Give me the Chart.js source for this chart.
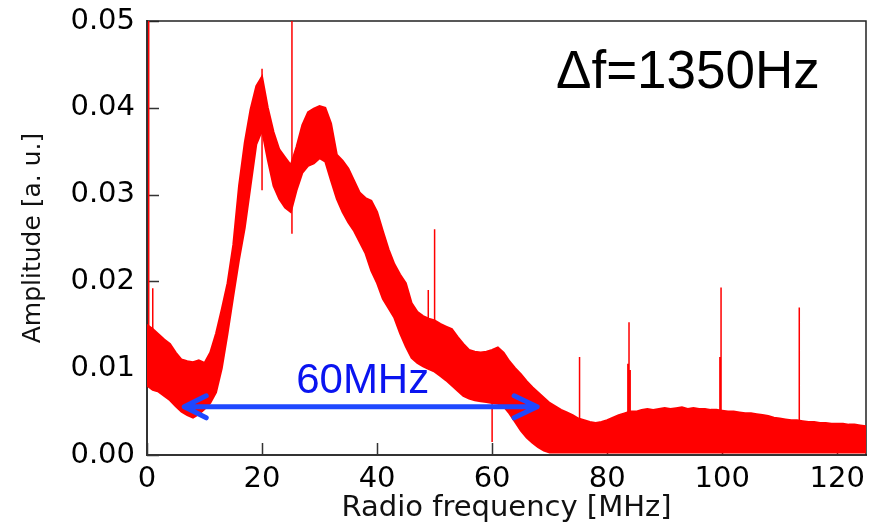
<!DOCTYPE html>
<html>
<head>
<meta charset="utf-8">
<script src="https://cdn.jsdelivr.net/npm/chart.js@4.4.1/dist/chart.umd.min.js"></script>
<style>
  html, body { margin: 0; padding: 0; background: #ffffff; }
  #wrap { width: 870px; height: 523px; position: relative; }
</style>
</head>
<body>
<div id="wrap"><canvas id="c" width="870" height="523"></canvas></div>
<script>
// ---- data (x in MHz, y in a.u.) ----
const freq = [0,1,2,3,4,5,6,7,8,9,10,11,12,13,14,15,16,17,18,19,20,21,22,23,24,25,26,27,28,29,30,31,32,33,34,35,36,37,38,39,40,41,42,43,44,45,46,47,48,49,50,51,52,53,54,55,56,57,58,59,60,61,62,63,64,65,66,67,68,69,70,71,72,73,74,75,76,77,78,79,80,81,82,83,84,85,86,87,88,89,90,91,92,93,94,95,96,97,98,99,100,101,102,103,104,105,106,107,108,109,110,111,112,113,114,115,116,117,118,119,120,121,122,123,124,125];

// upper edge of the noise band
const upperEnv = [0.0150,0.0145,0.0139,0.0133,0.0128,0.0118,0.0110,0.0108,0.0107,0.0109,
  0.0106,0.0118,0.0140,0.0168,0.0198,0.0242,0.0310,0.0360,0.0398,0.0425,
  0.0436,0.0400,0.0372,0.0352,0.0343,0.0334,0.0355,0.0380,0.0395,0.0399,
  0.0402,0.0400,0.0382,0.0346,0.0339,0.0330,0.0316,0.0302,0.0296,0.0293,
  0.0280,0.0258,0.0237,0.0220,0.0208,0.0198,0.0175,0.0165,0.0160,0.0157,
  0.0155,0.0151,0.0148,0.0145,0.0136,0.0128,0.0121,0.0119,0.0118,0.0119,
  0.0121,0.0124,0.0118,0.0108,0.0100,0.0093,0.0085,0.0078,0.0072,0.0066,
  0.0060,0.0056,0.0052,0.0049,0.0046,0.0042,0.0040,0.0038,0.0037,0.0038,
  0.0040,0.0043,0.0046,0.0048,0.0050,0.0050,0.0052,0.0053,0.0052,0.0053,
  0.0054,0.0053,0.0054,0.0055,0.0053,0.0054,0.0053,0.0053,0.0052,0.0052,
  0.0051,0.0050,0.0050,0.0049,0.0048,0.0048,0.0047,0.0046,0.0045,0.0043,
  0.0042,0.0041,0.0040,0.0040,0.0039,0.0038,0.0038,0.0037,0.0037,0.0036,
  0.0036,0.0036,0.0035,0.0035,0.0034,0.0033];

// lower edge of the noise band
const lowerEnv = [0.0080,0.0075,0.0073,0.0068,0.0063,0.0056,0.0050,0.0046,0.0043,0.0047,
  0.0053,0.0060,0.0072,0.0100,0.0140,0.0183,0.0225,0.0262,0.0310,0.0358,
  0.0374,0.0340,0.0310,0.0295,0.0285,0.0280,0.0305,0.0325,0.0333,0.0336,
  0.0342,0.0338,0.0316,0.0295,0.0280,0.0268,0.0258,0.0245,0.0232,0.0212,
  0.0198,0.0180,0.0169,0.0158,0.0140,0.0125,0.0112,0.0106,0.0102,0.0099,
  0.0096,0.0091,0.0086,0.0080,0.0074,0.0068,0.0065,0.0063,0.0062,0.0061,
  0.0060,0.0059,0.0056,0.0048,0.0038,0.0028,0.0020,0.0014,0.0009,0.0005,
  0.0003,0.0003,0.0003,0.0003,0.0003,0.0003,0.0003,0.0003,0.0003,0.0003,
  0.0003,0.0003,0.0003,0.0003,0.0003,0.0003,0.0003,0.0003,0.0003,0.0003,
  0.0003,0.0003,0.0003,0.0003,0.0003,0.0003,0.0003,0.0003,0.0003,0.0003,
  0.0003,0.0003,0.0003,0.0003,0.0003,0.0003,0.0003,0.0003,0.0003,0.0003,
  0.0003,0.0003,0.0003,0.0003,0.0003,0.0003,0.0003,0.0003,0.0003,0.0003,
  0.0003,0.0003,0.0003,0.0003,0.0003,0.0003];

// narrow spurious lines
const spikeFreq = [0.3, 1.0, 20.0, 25.2, 48.9, 50.0, 60.0, 75.2, 83.6, 83.8, 84.0, 99.6, 99.8, 113.4];
const spikeBase = [0.008, 0.008, 0.0305, 0.0255, 0.012, 0.012, 0.0015, 0.002, 0.004, 0.004, 0.004, 0.004, 0.004, 0.003];
const spikeTop  = [0.050, 0.0192, 0.0445, 0.050, 0.019, 0.026, 0.006, 0.0113, 0.0105, 0.0153, 0.0098, 0.0113, 0.0193, 0.017];

// tick values and annotations
const xTickValues = [0, 20, 40, 60, 80, 100, 120];
const yTickValues = [0.00, 0.01, 0.02, 0.03, 0.04, 0.05];
const bandwidthLabel = 'Δf=1350Hz';
const spanLabel = '60MHz';
const spanFrom = 6.3, spanTo = 68.0, spanLevel = 0.00555;

// ---- build datasets ----
const lowerData = freq.map((f, i) => ({ x: f, y: lowerEnv[i] }));
const upperData = freq.map((f, i) => ({ x: f, y: upperEnv[i] }));
const spikeData = [];
spikeFreq.forEach((f, i) => {
  spikeData.push({ x: f, y: spikeBase[i] });
  spikeData.push({ x: f, y: spikeTop[i] });
  spikeData.push({ x: f, y: null });
});

const RED = '#ff0000';
const FONT = '"DejaVu Sans", Verdana, sans-serif';

const decor = {
  id: 'decor',
  beforeDatasetsDraw(chart) {
    const { ctx, chartArea: a, scales: { x, y } } = chart;
    ctx.save();
    ctx.strokeStyle = '#333333';
    ctx.lineWidth = 1.5;
    ctx.beginPath();
    x.ticks.forEach(t => { const p = Math.round(x.getPixelForValue(t.value)) + 0.5; ctx.moveTo(p, a.bottom); ctx.lineTo(p, a.bottom - 12); });
    y.ticks.forEach(t => { const p = Math.round(y.getPixelForValue(t.value)) + 0.5; ctx.moveTo(a.left, p); ctx.lineTo(a.left + 12, p); });
    ctx.stroke();
    // top and right frame
    ctx.strokeStyle = '#222222';
    ctx.lineWidth = 1.5;
    ctx.beginPath();
    ctx.moveTo(a.left, a.top); ctx.lineTo(a.right, a.top); ctx.lineTo(a.right, a.bottom);
    ctx.stroke();
    ctx.restore();
  },
  afterDraw(chart) {
    const { ctx, scales: { x, y } } = chart;
    ctx.save();
    // Δf text
    ctx.fillStyle = '#000000';
    ctx.font = '53px "Liberation Sans", Arial, sans-serif';
    ctx.textAlign = 'left';
    ctx.textBaseline = 'alphabetic';
    ctx.fillText(bandwidthLabel, 556, 88);
    // double arrow
    const x1 = x.getPixelForValue(spanFrom), x2 = x.getPixelForValue(spanTo), yy = y.getPixelForValue(spanLevel);
    ctx.strokeStyle = '#1f48ff';
    ctx.lineWidth = 5;
    ctx.lineCap = 'round';
    ctx.lineJoin = 'round';
    ctx.beginPath();
    ctx.moveTo(x1 + 2, yy); ctx.lineTo(x2 - 2, yy);
    ctx.moveTo(x1 + 23, yy - 11); ctx.lineTo(x1 + 1, yy); ctx.lineTo(x1 + 23, yy + 11);
    ctx.moveTo(x2 - 24, yy - 11); ctx.lineTo(x2 - 1, yy); ctx.lineTo(x2 - 24, yy + 11);
    ctx.stroke();
    // span label
    ctx.fillStyle = '#0a14f0';
    ctx.font = '42px "Liberation Sans", Arial, sans-serif';
    ctx.textAlign = 'center';
    ctx.fillText(spanLabel, (x1 + x2) / 2 + 2, yy - 14);
    ctx.restore();
  }
};

new Chart(document.getElementById('c'), {
  type: 'line',
  data: {
    datasets: [
      { data: lowerData, borderColor: RED, borderWidth: 2, pointRadius: 0, fill: false, tension: 0 },
      { data: upperData, borderColor: RED, borderWidth: 2, pointRadius: 0, backgroundColor: RED, fill: '-1', tension: 0 },
      { data: spikeData, borderColor: RED, borderWidth: 1.5, pointRadius: 0, fill: false, spanGaps: false, tension: 0 }
    ]
  },
  options: {
    responsive: false,
    devicePixelRatio: 1,
    animation: false,
    layout: { padding: { top: 21, right: 4, left: 0, bottom: 0 } },
    plugins: { legend: { display: false }, tooltip: { enabled: false } },
    scales: {
      x: {
        type: 'linear',
        min: 0, max: 125,
        afterFit: s => { s.height = 68; s.paddingLeft = 0; s.paddingRight = 0; s.paddingTop = 0; s.paddingBottom = 0; },
        afterBuildTicks: s => { s.ticks = xTickValues.map(v => ({ value: v })); },
        ticks: { includeBounds: false, padding: 7, color: '#000000', font: { family: FONT, size: 29 }, maxRotation: 0, autoSkip: false,
                 callback: v => String(v) },
        grid: { display: false, drawTicks: false },
        border: { display: true, color: '#333333', width: 2 },
        title: { display: true, text: 'Radio frequency [MHz]', color: '#111111', padding: { top: 0, bottom: -3 },
                 font: { family: FONT, size: 29 } }
      },
      y: {
        type: 'linear',
        min: 0, max: 0.05,
        afterFit: s => { s.width = 147; s.paddingLeft = 0; s.paddingRight = 0; s.paddingTop = 0; s.paddingBottom = 0; },
        afterBuildTicks: s => { s.ticks = yTickValues.map(v => ({ value: v })); },
        ticks: { padding: 12, color: '#000000', font: { family: FONT, size: 29 },
                 callback: v => Number(v).toFixed(2) },
        grid: { display: false, drawTicks: false },
        border: { display: true, color: '#333333', width: 2 },
        title: { display: true, text: 'Amplitude [a. u.]', color: '#111111', padding: { top: 18, bottom: 0 },
                 font: { family: FONT, size: 25 } }
      }
    }
  },
  plugins: [decor]
});
</script>
</body>
</html>
